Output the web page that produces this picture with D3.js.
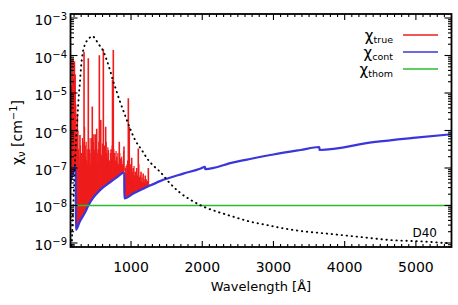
<!DOCTYPE html>
<html>
<head>
<meta charset="utf-8">
<script src="https://cdn.jsdelivr.net/npm/d3@7"></script>
<style>
  body { margin: 0; background: #fff; }
  svg { display: block; font-family: "DejaVu Sans", sans-serif; }
</style>
</head>
<body>
<svg id="chart" width="458" height="305"></svg>
<script>
// values, log10(chi) in cm^-1, wavelength in Angstrom

// chi_cont (blue), edges given as two close points
let cont_lam = [150, 190, 224, 225, 283, 354, 400, 470, 564, 705, 800, 905, 906, 1032, 1220, 1407, 1734, 1969, 2039, 2040, 2437, 2671, 3000, 3378, 3645, 3646, 4403, 5000, 5500];
let cont_log = [-7.37, -7.12, -6.92, -8.65, -8.42, -8.19, -8.0, -7.79, -7.59, -7.38, -7.25, -7.12, -7.81, -7.68, -7.51, -7.35, -7.15, -7.02, -6.97, -7.03, -6.85, -6.76, -6.64, -6.52, -6.44, -6.52, -6.31, -6.19, -6.10];

// chi_true: dense line forest, upper edge of the solid part
let true_floor_lam = [150, 224, 230, 300, 400, 500, 600, 700, 800, 905, 906, 1000, 1100, 1200, 1270];
let true_floor_log = [-6.4, -6.5, -6.85, -6.9, -6.95, -6.97, -7.02, -7.07, -7.03, -6.98, -7.28, -7.3, -7.35, -7.4, -7.45];

// chi_true: strong lines (wavelength, peak)
let line_lam = [160, 165, 172, 178, 185, 190, 195, 205, 210, 215, 222, 246, 262, 283, 300, 325, 340, 355, 377, 400, 415, 440, 456, 470, 485, 497, 518, 540, 555, 575, 588, 611, 625, 644, 660, 681, 700, 720, 740, 751, 770, 799, 820, 835, 850, 880, 901, 925, 945, 962, 975, 1009, 1030, 1060, 1080, 1102, 1140, 1170, 1200, 1243];
let line_peak = [-4.8, -5.5, -4.1, -5.0, -4.08, -5.8, -4.6, -4.15, -6.0, -4.5, -5.3, -5.55, -6.5, -6.12, -6.6, -6.3, -3.9, -6.4, -6.79, -4.07, -6.5, -6.2, -5.36, -6.3, -6.6, -6.1, -5.95, -6.5, -3.99, -5.72, -6.65, -3.83, -6.4, -5.9, -6.6, -6.52, -6.8, -6.5, -4.65, -3.85, -6.6, -6.7, -6.9, -6.3, -6.75, -6.9, -6.43, -7.0, -6.9, -5.14, -5.9, -6.73, -7.0, -7.1, -7.0, -6.48, -7.1, -7.15, -7.2, -7.0];

// chi_true: weaker lines filling the forest
let weak_lam = [152, 155, 168, 175, 182, 188, 198, 200, 208, 218, 226, 235, 255, 270, 290, 310, 318, 332, 348, 362, 370, 385, 392, 408, 425, 432, 448, 462, 477, 490, 505, 512, 525, 532, 547, 562, 568, 582, 598, 605, 618, 632, 638, 652, 668, 675, 690, 710, 728, 735, 758, 762, 780, 790, 808, 815, 828, 842, 858, 868, 875, 890, 895, 918, 930, 938, 952, 968, 985, 995, 1018, 1042, 1050, 1070, 1090, 1110, 1120, 1130, 1155, 1185, 1215, 1230];
let weak_peak = [-6.0, -5.2, -4.9, -6.2, -5.6, -4.9, -5.4, -6.0, -5.0, -5.7, -6.0, -6.2, -6.0, -6.7, -6.4, -6.8, -6.2, -6.6, -5.9, -6.7, -6.3, -6.5, -6.9, -6.2, -6.6, -6.9, -6.45, -6.8, -6.1, -6.5, -6.7, -6.3, -6.6, -6.85, -6.3, -6.6, -6.2, -6.8, -6.35, -6.7, -6.9, -6.55, -6.85, -6.3, -6.75, -6.45, -6.8, -6.6, -6.75, -6.4, -6.5, -6.9, -6.8, -6.55, -6.85, -6.6, -6.9, -6.6, -6.85, -6.7, -6.95, -6.8, -6.55, -7.1, -6.95, -7.15, -6.8, -6.6, -7.05, -6.9, -7.1, -6.95, -7.2, -7.1, -7.2, -6.9, -7.25, -7.2, -7.25, -7.3, -7.3, -7.35];

// dotted curve
let dot_lam = [165, 180, 200, 213, 223, 237, 251, 269, 283, 297, 321, 354, 400, 456, 508, 554, 602, 658, 705, 751, 775, 845, 915, 985, 1056, 1150, 1243, 1337, 1407, 1547, 1688, 1828, 2015, 2203, 2437, 2671, 2906, 3139, 3378, 3700, 4170, 4637, 5105, 5480];
let dot_log = [-9.2, -8.4, -7.5, -6.87, -6.43, -5.99, -5.53, -5.0, -4.70, -4.33, -3.94, -3.70, -3.57, -3.48, -3.59, -3.72, -3.85, -4.12, -4.39, -4.70, -4.83, -5.23, -5.59, -5.94, -6.25, -6.52, -6.79, -6.98, -7.10, -7.41, -7.66, -7.84, -8.03, -8.16, -8.30, -8.43, -8.52, -8.61, -8.68, -8.74, -8.83, -8.92, -8.96, -9.01];

// chi_thom
let thom_log = -8.0;

// axes
let x_labels = [1000, 2000, 3000, 4000, 5000];
let y_exps = [-9, -8, -7, -6, -5, -4, -3];
let legend_names = ["true", "cont", "thom"];
let legend_colors = ["#ee1c1c", "#3b36dc", "#2cbb2c"];

let m_left = 70.5, m_right = 451.5, m_top = 14, m_bottom = 247;

let svg = d3.select("#chart");

let x = d3.scaleLinear().domain([150, 5500]).range([m_left, m_right]);
let y = d3.scaleLog().domain([Math.pow(10, -9.107), Math.pow(10, -2.893)]).range([m_bottom, m_top]);
let yl = v => y(Math.pow(10, v));

svg.append("defs").append("clipPath").attr("id", "plot")
  .append("rect").attr("x", m_left).attr("y", m_top).attr("width", m_right - m_left).attr("height", m_bottom - m_top);

let plot = svg.append("g").attr("clip-path", "url(#plot)");

let cont = cont_lam.map((d, i) => [d, cont_log[i]]);
let floor = true_floor_lam.map((d, i) => [d, true_floor_log[i]]);

// red solid band: floor forward, continuum backward
let band = floor.concat(cont.filter(d => d[0] <= 1270).reverse());
plot.append("path")
  .attr("d", d3.line().x(d => x(d[0])).y(d => yl(d[1]))(band) + "Z")
  .attr("fill", legend_colors[0]);

let floor_at = d3.scaleLinear().domain(true_floor_lam).range(true_floor_log);
let cont_at = d3.scaleLinear().domain(cont_lam).range(cont_log);

let spikes = weak_lam.map((d, i) => [d, weak_peak[i], 1.2])
  .concat(line_lam.map((d, i) => [d, line_peak[i], 1.6]));

plot.selectAll("line.spike")
  .data(spikes)
  .join("line")
    .attr("class", "spike")
    .attr("x1", d => x(d[0])).attr("x2", d => x(d[0]))
    .attr("y1", d => yl(Math.min(floor_at(d[0]), cont_at(d[0])) + 0.05))
    .attr("y2", d => yl(d[1]))
    .attr("stroke", legend_colors[0])
    .attr("stroke-width", d => d[2]);

plot.append("path")
  .datum(cont)
  .attr("d", d3.line().x(d => x(d[0])).y(d => yl(d[1])).curve(d3.curveMonotoneX))
  .attr("fill", "none")
  .attr("stroke", legend_colors[1])
  .attr("stroke-width", 2.2);

plot.append("line")
  .attr("x1", m_left).attr("x2", m_right)
  .attr("y1", yl(thom_log)).attr("y2", yl(thom_log))
  .attr("stroke", legend_colors[2])
  .attr("stroke-width", 1.6);

plot.append("path")
  .datum(dot_lam.map((d, i) => [d, dot_log[i]]))
  .attr("d", d3.line().x(d => x(d[0])).y(d => yl(d[1])).curve(d3.curveMonotoneX))
  .attr("fill", "none")
  .attr("stroke", "#000")
  .attr("stroke-width", 1.9)
  .attr("stroke-linecap", "round")
  .attr("stroke-dasharray", "0.4,4.6");

// frame and ticks (inward, all four sides)
let ticks = svg.append("g").attr("stroke", "#000").attr("stroke-width", 1.1);

let x_minor = d3.range(200, 5500, 100).filter(d => d % 1000 != 0);
x_minor.forEach(d => {
  ticks.append("line").attr("x1", x(d)).attr("x2", x(d)).attr("y1", m_bottom).attr("y2", m_bottom - 3);
  ticks.append("line").attr("x1", x(d)).attr("x2", x(d)).attr("y1", m_top).attr("y2", m_top + 3);
});
x_labels.forEach(d => {
  ticks.append("line").attr("x1", x(d)).attr("x2", x(d)).attr("y1", m_bottom).attr("y2", m_bottom - 6);
  ticks.append("line").attr("x1", x(d)).attr("x2", x(d)).attr("y1", m_top).attr("y2", m_top + 6);
});

let y_minor = [];
d3.range(-10, -2).forEach(k => d3.range(2, 10).forEach(m => y_minor.push(m * Math.pow(10, k))));
y_minor = y_minor.filter(v => y(v) >= m_top && y(v) <= m_bottom);
y_minor.forEach(v => {
  ticks.append("line").attr("x1", m_left).attr("x2", m_left + 3.5).attr("y1", y(v)).attr("y2", y(v));
  ticks.append("line").attr("x1", m_right).attr("x2", m_right - 3.5).attr("y1", y(v)).attr("y2", y(v));
});
y_exps.forEach(k => {
  ticks.append("line").attr("x1", m_left).attr("x2", m_left + 7).attr("y1", yl(k)).attr("y2", yl(k));
  ticks.append("line").attr("x1", m_right).attr("x2", m_right - 7).attr("y1", yl(k)).attr("y2", yl(k));
});

svg.append("rect")
  .attr("x", m_left).attr("y", m_top).attr("width", m_right - m_left).attr("height", m_bottom - m_top)
  .attr("fill", "none").attr("stroke", "#000").attr("stroke-width", 1.8);

// tick labels
svg.selectAll("text.xlab")
  .data(x_labels)
  .join("text")
    .attr("class", "xlab")
    .attr("x", d => x(d)).attr("y", 271.5)
    .attr("text-anchor", "middle")
    .attr("font-size", 14)
    .text(d => d);

let ylab = svg.selectAll("text.ylab")
  .data(y_exps)
  .join("text")
    .attr("class", "ylab")
    .attr("x", 67).attr("y", d => yl(d) + 7)
    .attr("text-anchor", "end")
    .attr("font-size", 14);
ylab.append("tspan").text("10");
ylab.append("tspan").attr("dy", -5).attr("font-size", 10).text(d => "\u2212" + (-d));

// axis titles
svg.append("text")
  .attr("x", (m_left + m_right) / 2).attr("y", 291)
  .attr("text-anchor", "middle")
  .attr("font-size", 13)
  .text("Wavelength [\u00c5]");

let yt = svg.append("text")
  .attr("transform", "translate(22," + ((m_top + m_bottom) / 2 + 2) + ") rotate(-90)")
  .attr("text-anchor", "middle")
  .attr("font-size", 14);
yt.append("tspan").text("\u03c7");
yt.append("tspan").attr("dy", 3).attr("font-size", 10).text("\u03bd");
yt.append("tspan").attr("dy", -3).text(" [cm");
yt.append("tspan").attr("dy", -5).attr("font-size", 10).text("\u22121");
yt.append("tspan").attr("dy", 5).text("]");

// legend
let leg = svg.selectAll("g.leg")
  .data(legend_names)
  .join("g")
    .attr("class", "leg")
    .attr("transform", (d, i) => "translate(0," + (35 + i * 17) + ")");
leg.append("line")
  .attr("x1", 403).attr("x2", 438)
  .attr("stroke", (d, i) => legend_colors[i])
  .attr("stroke-width", 1.6);
let lt = leg.append("text")
  .attr("x", 393).attr("y", 6)
  .attr("text-anchor", "end")
  .attr("font-size", 15);
lt.append("tspan").text("\u03c7");
lt.append("tspan").attr("dy", 2).attr("font-size", 9.5).text(d => d);

svg.append("text")
  .attr("x", 437).attr("y", 237)
  .attr("text-anchor", "end")
  .attr("font-size", 12)
  .text("D40");
</script>
</body>
</html>
